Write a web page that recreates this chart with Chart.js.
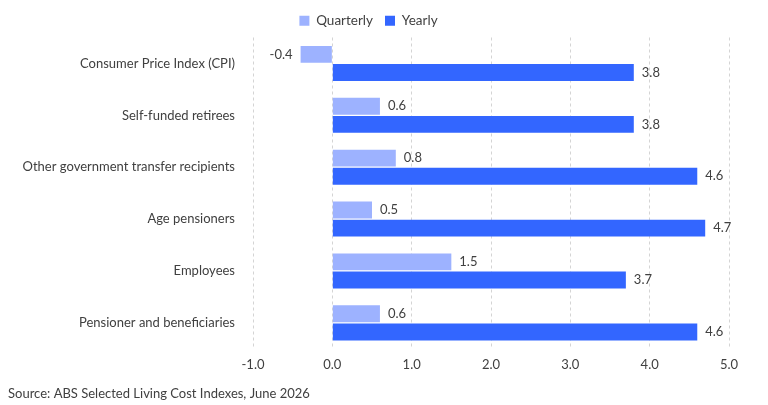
<!DOCTYPE html>
<html><head><meta charset="utf-8">
<script src="https://cdn.jsdelivr.net/npm/chart.js@4/dist/chart.umd.min.js"></script>
<style>html,body{margin:0;padding:0;background:#fff}#wrap{width:768px;height:405px}</style>
</head><body><div id="wrap"><canvas id="c"></canvas></div>
<script>
const categories = ["Consumer Price Index (CPI)","Self-funded retirees","Other government transfer recipients","Age pensioners","Employees","Pensioner and beneficiaries"];
const quarterly = [-0.4,0.6,0.8,0.5,1.5,0.6];
const yearly = [3.8,3.8,4.6,4.7,3.7,4.6];
const seriesNames = ["Quarterly","Yearly"];
const xTicks = [-1,0,1,2,3,4,5];
const sourceText = "Source: ABS Selected Living Cost Indexes, June 2026";

const FONT = "Lato, 'Open Sans', sans-serif";
const TXT = '#404040';

const labelPlugin = {
  id:'barLabels',
  afterDatasetsDraw(chart){
    const ctx = chart.ctx;
    ctx.save();
    ctx.font = '13px ' + FONT;
    ctx.fillStyle = TXT;
    ctx.textBaseline = 'middle';
    chart.data.datasets.forEach((ds,i)=>{
      const meta = chart.getDatasetMeta(i);
      meta.data.forEach((bar,j)=>{
        const v = ds.data[j];
        const t = v.toFixed(1);
        if (v >= 0){ ctx.textAlign='left'; ctx.fillText(t, bar.x + 8, bar.y); }
        else { ctx.textAlign='right'; ctx.fillText(t, bar.x - 8, bar.y); }
      });
    });
    ctx.restore();
  }
};

new Chart(document.getElementById('c'), {
  type:'bar',
  data:{
    labels: categories,
    datasets:[
      {label: seriesNames[0], data: quarterly, backgroundColor:'#9DB2FF', barPercentage:0.93, categoryPercentage:0.7},
      {label: seriesNames[1], data: yearly, backgroundColor:'#3366FF', barPercentage:0.93, categoryPercentage:0.7}
    ]
  },
  options:{
    indexAxis:'y',
    responsive:true, maintainAspectRatio:false, animation:false,
    devicePixelRatio:1,
    layout:{padding:{left:8,right:39,top:2,bottom:0}},
    plugins:{
      legend:{position:'top', labels:{font:{family:FONT,size:13.5}, color:TXT, boxWidth:10, boxHeight:10, padding:12}},
      title:{display:true, text:sourceText, position:'bottom', align:'start', color:TXT, font:{family:FONT,size:13,weight:'normal'}, padding:{top:6,bottom:3}},
      tooltip:{enabled:false}
    },
    scales:{
      x:{min:-1,max:5, afterBuildTicks(s){ s.ticks = xTicks.map(v=>({value:v})); },
        ticks:{callback:v=>Number(v).toFixed(1), color:TXT, font:{family:FONT,size:13}, padding:8},
        grid:{color:'#d4d4d4', drawTicks:false}, border:{display:false, dash:[3,3]}},
      y:{grid:{display:false}, border:{display:false},
        ticks:{color:TXT, font:{family:FONT,size:13}, padding:10},
        afterFit(s){ s.width = 245; }}
    }
  },
  plugins:[labelPlugin]
});
</script></body></html>
